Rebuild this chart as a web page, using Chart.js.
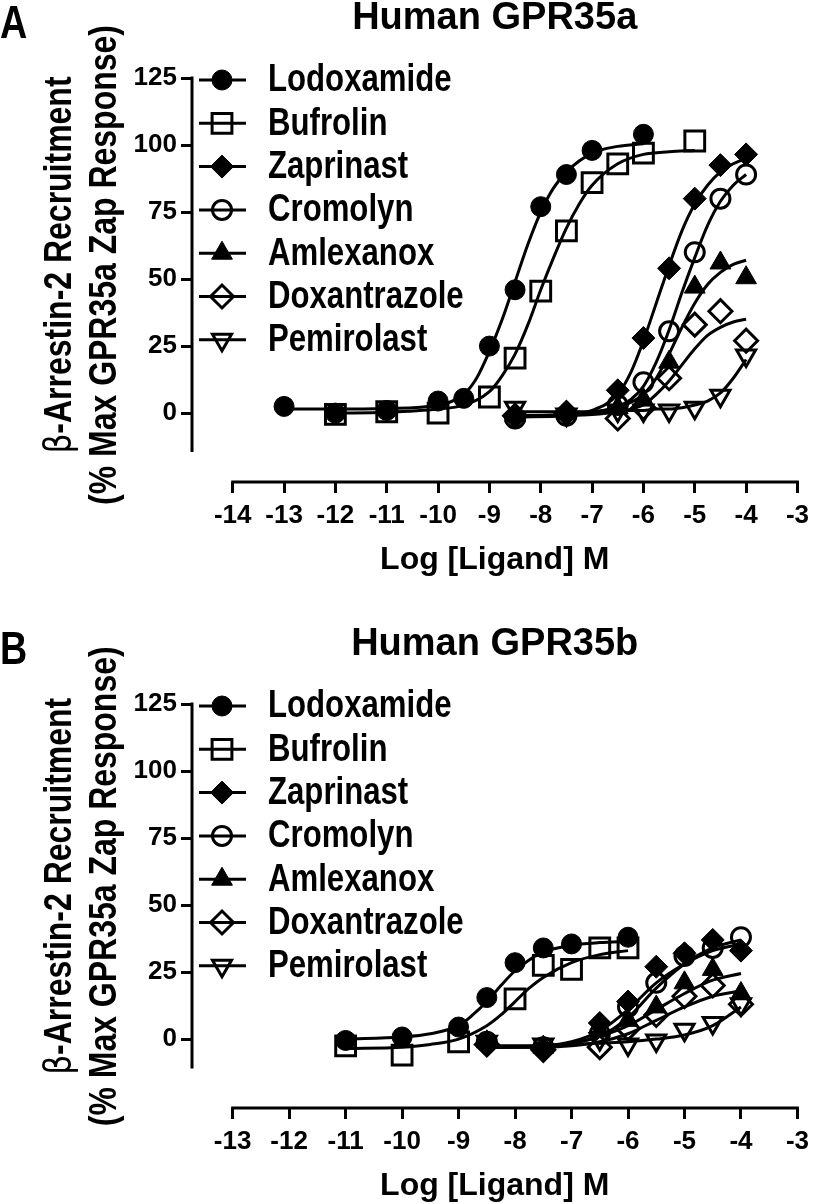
<!DOCTYPE html>
<html>
<head>
<meta charset="utf-8">
<title>GPR35 beta-arrestin-2 recruitment</title>
<script src="https://cdn.jsdelivr.net/npm/chart.js@4.4.1/dist/chart.umd.min.js"></script>
<style>
  body { margin: 0; background: #fff; }
  canvas { position: absolute; left: 0; }
  #chartA { top: 0; }
  #chartB { top: 626px; }
</style>
</head>
<body>
<canvas id="chartA" width="816" height="577"></canvas>
<canvas id="chartB" width="816" height="577"></canvas>
<script>
// legend order
const compounds = ['Lodoxamide', 'Bufrolin', 'Zaprinast', 'Cromolyn', 'Amlexanox', 'Doxantrazole', 'Pemirolast'];
const yTicks = [0, 25, 50, 75, 100, 125];
const xTicksA = [-14, -13, -12, -11, -10, -9, -8, -7, -6, -5, -4, -3];
const xTicksB = [-13, -12, -11, -10, -9, -8, -7, -6, -5, -4, -3];

// ---- Human GPR35a, measured points (log M, % max) ----
const aLodoxamideX = [-13, -12, -11, -10, -9.5, -9, -8.5, -8, -7.5, -7, -6];
const aLodoxamideY = [2.5, 0, 1, 4.5, 5.5, 25, 46, 77, 89, 98, 104];
const aBufrolinX = [-12, -11, -10, -9, -8.5, -8, -7.5, -7, -6.5, -6, -5];
const aBufrolinY = [-0.5, 0.5, 0, 6, 20.5, 45.5, 68, 86, 93, 97, 101.5];
const aDoseX = [-8.5, -7.5, -6.5, -6, -5.5, -5, -4.5, -4];
const aZaprinastY = [-1, 0, 8.5, 28, 54, 80, 92.5, 96.5];
const aCromolynY = [-2, -1, 3, 11.5, 30.5, 60, 80, 89];
const aAmlexanoxY = [-1, 0, 2, 5, 19, 47, 56, 50.5];
const aDoxantrazoleY = [-1, 0, -2, 2, 13, 33, 38, 27];
const aPemirolastY = [2, -0.5, 1, 1, 1, 2, 6.5, 21.5];

// ---- Human GPR35a, fitted curves ----
const aLodoxamideFitX = [-13, -12, -11, -10, -9.5, -9.25, -9, -8.75, -8.5, -8.25, -8, -7.75, -7.5, -7, -6.5, -6];
const aLodoxamideFitY = [1.5, 1.5, 1.7, 3, 7, 13, 23, 35, 49, 63, 75, 84, 90, 97, 99.5, 100.5];
const aBufrolinFitX = [-12, -11, -10, -9.5, -9, -8.75, -8.5, -8.25, -8, -7.75, -7.5, -7.25, -7, -6.5, -6, -5.5, -5];
const aBufrolinFitY = [0, 0.3, 1.5, 3, 8, 14, 22, 33, 46, 58, 69, 78, 85, 93, 96.5, 97.5, 98];
const aFitX = [-8.5, -7.5, -7, -6.5, -6.25, -6, -5.75, -5.5, -5.25, -5, -4.75, -4.5, -4.25, -4];
const aZaprinastFitY = [-1, -0.5, 1, 7, 15, 27, 41, 55, 68, 78, 85, 90, 93, 95];
const aCromolynFitY = [-1.5, -1, 0, 2.5, 5, 10, 19, 31, 45, 58, 70, 79, 85, 89];
const aAmlexanoxFitY = [-1, -0.5, 0.5, 2, 4, 7, 13, 22, 32, 41, 48, 52.5, 55.5, 57];
const aDoxantrazoleFitY = [-1, -0.8, -0.5, 0.5, 1.5, 3, 7, 12, 18, 24, 29, 32, 34, 35];
const aPemirolastFitY = [0.5, 0.5, 0.5, 0.8, 1, 1, 1.5, 1.5, 2, 3, 4.5, 7.5, 13, 20];

// ---- Human GPR35b, measured points ----
const bLodoxamideX = [-11, -10, -9, -8.5, -8, -7.5, -7, -6];
const bLodoxamideY = [-0.5, 0.8, 4.5, 15.5, 28.5, 34, 35.5, 38];
const bBufrolinX = [-11, -10, -9, -8, -7.5, -7, -6.5, -6];
const bBufrolinY = [-2.5, -6, -1, 15, 27.5, 26, 34, 34];
const bDoseX = [-8.5, -7.5, -6.5, -6, -5.5, -5, -4.5, -4];
const bZaprinastY = [-2, -4, 6, 14, 27, 32, 37, 33];
const bCromolynY = [-1, -3, 2, 12, 21, 31, 34, 38];
const bAmlexanoxY = [-1, -3, 3, 7, 12, 21, 26, 17];
const bDoxantrazoleY = [-2, -4, -3, 4, 9, 16, 20, 13];
const bPemirolastY = [-1, -2, 0, -2, -0.5, 3.5, 6, 13];

// ---- Human GPR35b, fitted curves ----
const bLodoxamideFitX = [-11, -10, -9.5, -9, -8.75, -8.5, -8.25, -8, -7.75, -7.5, -7, -6.5, -6];
const bLodoxamideFitY = [0, 0.8, 2, 5, 9, 14, 20, 25.5, 29.5, 32.5, 35, 36, 36.5];
const bBufrolinFitX = [-11, -10, -9.5, -9, -8.5, -8.25, -8, -7.75, -7.5, -7, -6.5, -6];
const bBufrolinFitY = [-3.5, -3, -2, 0, 5, 9, 14, 19, 23, 28.5, 31.5, 33];
const bFitX = [-8.5, -7.5, -7, -6.5, -6, -5.5, -5, -4.5, -4];
const bZaprinastFitY = [-3, -2.5, -1, 3, 11, 21, 28, 33, 35.5];
const bCromolynFitY = [-3, -3, -1.5, 1, 8, 19, 28, 34, 37];
const bAmlexanoxFitY = [-3, -2.5, -1.5, 1, 5, 11, 17, 22, 24.5];
const bDoxantrazoleFitY = [-3, -3, -2.5, -1, 2, 7, 12, 16, 18];
const bPemirolastFitY = [-2.5, -2.5, -2, -1.5, -1, 0, 1.5, 5, 12];

const FONT = '"Liberation Sans", Arial, sans-serif';
// no narrow face is installed, so the hand-drawn labels are squeezed instead
const SQUEEZE = 0.82;

const markers = [
  { style: 'circle', radius: 10, fill: true },
  { style: 'rect', radius: 14, fill: false },
  { style: 'rectRot', radius: 11.5, fill: true },
  { style: 'circle', radius: 9.5, fill: false },
  { style: 'triangle', radius: 12, fill: true },
  { style: 'rectRot', radius: 11.5, fill: false },
  { style: 'triangle', radius: 11, fill: false, rotation: 180 },
];

function toPoints(xs, ys) {
  return xs.map((x, i) => ({ x: x, y: ys[i] }));
}

function narrowText(ctx, text, x, y, size, align) {
  ctx.save();
  ctx.translate(x, y);
  ctx.scale(SQUEEZE, 1);
  ctx.font = 'bold ' + size + 'px ' + FONT;
  ctx.textAlign = align || 'left';
  ctx.textBaseline = 'middle';
  ctx.fillText(text, 0, 0);
  ctx.restore();
}

// letter, offset axes, two-line y title and the inset legend
function decorPlugin(letter, xTicks, yAxisMin) {
  return {
    id: 'panelDecor',
    afterDraw(chart) {
      const { ctx, chartArea: ca } = chart;
      const x = chart.scales.x;
      const y = chart.scales.y;
      ctx.save();
      ctx.strokeStyle = '#000';
      ctx.fillStyle = '#000';
      ctx.lineWidth = 3;

      const yTop = y.getPixelForValue(125);
      const yBot = y.getPixelForValue(yAxisMin);
      ctx.beginPath();
      ctx.moveTo(ca.left, yTop - 1.5);
      ctx.lineTo(ca.left, yBot);
      ctx.moveTo(x.getPixelForValue(xTicks[0]) - 1.5, ca.bottom);
      ctx.lineTo(x.getPixelForValue(-3) + 1.5, ca.bottom);
      ctx.stroke();

      narrowText(ctx, letter, 0, 25, 46);

      // y axis title, beta in a plain face
      const cy = (yTop + yBot) / 2;
      ctx.save();
      ctx.translate(60, cy);
      ctx.rotate(-Math.PI / 2);
      ctx.scale(SQUEEZE, 1);
      ctx.textBaseline = 'middle';
      const beta = '\u03B2';
      const rest = '-Arrestin-2 Recruitment';
      const betaFont = '38px "DejaVu Sans", sans-serif';
      const restFont = 'bold 39px ' + FONT;
      ctx.font = betaFont;
      const wb = ctx.measureText(beta).width;
      ctx.font = restFont;
      const wr = ctx.measureText(rest).width;
      const sx = -(wb + wr) / 2;
      ctx.font = betaFont;
      ctx.fillText(beta, sx, 0);
      ctx.font = restFont;
      ctx.fillText(rest, sx + wb, 0);
      ctx.restore();

      ctx.save();
      ctx.translate(105, cy);
      ctx.rotate(-Math.PI / 2);
      narrowText(ctx, '(% Max GPR35a Zap Response)', 0, 0, 39, 'center');
      ctx.restore();

      // legend inside the plot
      compounds.forEach((name, i) => {
        const m = markers[i];
        const ly = ca.top + 2 + i * 43.3;
        ctx.lineWidth = 3;
        ctx.beginPath();
        ctx.moveTo(ca.left + 7, ly);
        ctx.lineTo(ca.left + 54, ly);
        ctx.stroke();
        ctx.fillStyle = m.fill ? '#000' : 'rgba(0,0,0,0)';
        ctx.lineWidth = m.fill ? 1 : 3;
        Chart.helpers.drawPoint(ctx, {
          pointStyle: m.style, radius: m.radius, rotation: m.rotation || 0, borderWidth: ctx.lineWidth
        }, ca.left + 30, ly);
        ctx.fillStyle = '#000';
        narrowText(ctx, name, ca.left + 76, ly + 1, 38);
      });
      ctx.restore();
    }
  };
}

function makePanel(id, title, letter, xTicks, xMin, yAxisMin, pointX, pointY, fitX, fitY) {
  const datasets = [];
  compounds.forEach((name, i) => {
    const m = markers[i];
    datasets.push({
      label: name + ' fit',
      data: toPoints(fitX[i], fitY[i]),
      showLine: true,
      pointRadius: 0,
      borderColor: '#000',
      borderWidth: 3,
      cubicInterpolationMode: 'monotone',
      order: 2,
    });
    datasets.push({
      label: name,
      data: toPoints(pointX[i], pointY[i]),
      showLine: false,
      pointStyle: m.style,
      pointRadius: m.radius,
      pointRotation: m.rotation || 0,
      pointBackgroundColor: m.fill ? '#000' : 'rgba(0,0,0,0)',
      pointBorderColor: '#000',
      pointBorderWidth: m.fill ? 1 : 3,
      order: 1,
    });
  });

  const tickFont = { family: FONT, size: 26, weight: 'bold' };
  const gridOpts = { drawOnChartArea: false, drawTicks: true, tickLength: 11, tickWidth: 3, tickColor: '#000' };

  new Chart(document.getElementById(id), {
    type: 'scatter',
    data: { datasets },
    options: {
      responsive: false,
      animation: false,
      layout: { padding: { top: 0, right: 14, bottom: 0, left: 0 } },
      plugins: {
        legend: { display: false },
        tooltip: { enabled: false },
        title: {
          display: true,
          text: title,
          fullSize: false,
          color: '#000',
          font: { family: FONT, size: 38, weight: 'bold', lineHeight: 1 },
          padding: { top: 0, bottom: 40 },
        },
      },
      scales: {
        x: {
          type: 'linear',
          min: xMin,
          max: -3,
          afterBuildTicks: (s) => { s.ticks = xTicks.map((v) => ({ value: v })); },
          afterFit: (s) => { s.height = 95; },
          ticks: { autoSkip: false, maxRotation: 0, padding: 7, color: '#000', font: tickFont, callback: (v) => String(v) },
          grid: gridOpts,
          border: { display: false },
          title: {
            display: true,
            text: 'Log [Ligand] M',
            color: '#000',
            font: { family: FONT, size: 32, weight: 'bold', lineHeight: 1 },
            padding: { top: 0, bottom: 1 },
          },
        },
        y: {
          type: 'linear',
          min: -25.7,
          max: 125,
          afterBuildTicks: (s) => { s.ticks = yTicks.map((v) => ({ value: v })); },
          afterFit: (s) => { s.width = 192; },
          ticks: { padding: 4, color: '#000', font: tickFont, callback: (v) => String(v) },
          grid: gridOpts,
          border: { display: false },
        },
      },
    },
    plugins: [decorPlugin(letter, xTicks, yAxisMin)],
  });
}

makePanel('chartA', 'Human GPR35a', 'A', xTicksA, -14.793, -14.5,
  [aLodoxamideX, aBufrolinX, aDoseX, aDoseX, aDoseX, aDoseX, aDoseX],
  [aLodoxamideY, aBufrolinY, aZaprinastY, aCromolynY, aAmlexanoxY, aDoxantrazoleY, aPemirolastY],
  [aLodoxamideFitX, aBufrolinFitX, aFitX, aFitX, aFitX, aFitX, aFitX],
  [aLodoxamideFitY, aBufrolinFitY, aZaprinastFitY, aCromolynFitY, aAmlexanoxFitY, aDoxantrazoleFitY, aPemirolastFitY]);

makePanel('chartB', 'Human GPR35b', 'B', xTicksB, -13.72, -11,
  [bLodoxamideX, bBufrolinX, bDoseX, bDoseX, bDoseX, bDoseX, bDoseX],
  [bLodoxamideY, bBufrolinY, bZaprinastY, bCromolynY, bAmlexanoxY, bDoxantrazoleY, bPemirolastY],
  [bLodoxamideFitX, bBufrolinFitX, bFitX, bFitX, bFitX, bFitX, bFitX],
  [bLodoxamideFitY, bBufrolinFitY, bZaprinastFitY, bCromolynFitY, bAmlexanoxFitY, bDoxantrazoleFitY, bPemirolastFitY]);
</script>
</body>
</html>
